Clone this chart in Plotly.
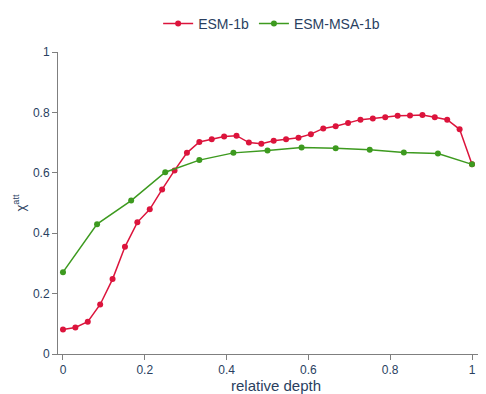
import plotly.graph_objects as go

esm1b_depth = [i / 33 for i in range(34)]
esm1b_values = [0.081, 0.088, 0.107, 0.164, 0.248, 0.355, 0.436, 0.479, 0.545, 0.608,
                0.666, 0.702, 0.711, 0.720, 0.723, 0.700, 0.696, 0.706, 0.711, 0.716,
                0.728, 0.747, 0.754, 0.765, 0.776, 0.780, 0.784, 0.789, 0.790, 0.791,
                0.784, 0.776, 0.744, 0.628]

msa_depth = [i / 12 for i in range(13)]
msa_values = [0.271, 0.430, 0.508, 0.602, 0.642, 0.666, 0.674, 0.684, 0.681, 0.676,
              0.667, 0.664, 0.628]

tick_vals = [0, 0.2, 0.4, 0.6, 0.8, 1]
tick_text = ["0", "0.2", "0.4", "0.6", "0.8", "1"]

fig = go.Figure()
fig.add_trace(go.Scatter(x=esm1b_depth, y=esm1b_values, mode="lines+markers",
                         name="ESM-1b", line=dict(color="#dc143c", width=1.5),
                         marker=dict(size=6, color="#dc143c")))
fig.add_trace(go.Scatter(x=msa_depth, y=msa_values, mode="lines+markers",
                         name="ESM-MSA-1b", line=dict(color="#3d9a1f", width=1.5),
                         marker=dict(size=6, color="#3d9a1f")))

fig.update_layout(
    template="plotly_white",
    width=486, height=394,
    margin=dict(l=50, r=0, t=40, b=48),
    font=dict(family="Liberation Sans, Arial, sans-serif", color="#2a3f5f"),
    legend=dict(orientation="h", x=0.49, xanchor="center", y=1.04, yanchor="bottom",
                font=dict(size=14)),
    xaxis=dict(title=dict(text="relative depth", font=dict(size=15), standoff=3),
               range=[-0.0122, 1.0538], showgrid=False, zeroline=False,
               showline=True, linecolor="#7f7f7f", ticks="outside", tickcolor="#7f7f7f",
               ticklen=5, tickvals=tick_vals, ticktext=tick_text, tickfont=dict(size=12)),
    yaxis=dict(title=dict(text="χ<sup>att</sup>", font=dict(size=13), standoff=4),
               range=[0, 1], showgrid=False, zeroline=False,
               showline=True, linecolor="#7f7f7f", ticks="outside", tickcolor="#7f7f7f",
               ticklen=5, tickvals=tick_vals, ticktext=tick_text, tickfont=dict(size=12)),
)

fig.write_html("out.html")
